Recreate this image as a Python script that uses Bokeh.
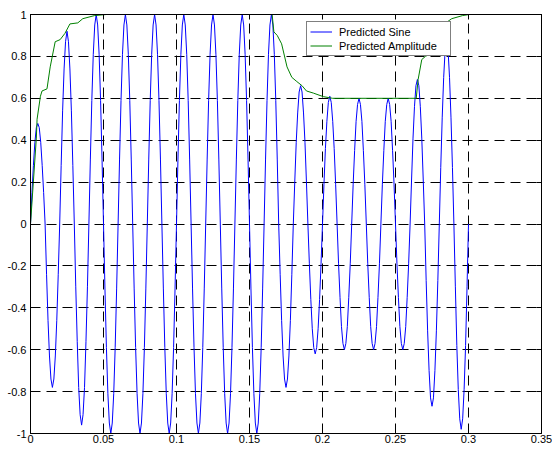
from bokeh.plotting import figure
from bokeh.models import (Range1d, FixedTicker, LinearAxis, Legend, LegendItem,
                          ColumnDataSource, CustomLabelingPolicy)
from bokeh.embed import file_html
from bokeh.resources import INLINE

# ---------------- data ----------------
sample_period = 0.001  # seconds between samples of the predicted sine

# predicted sine, one row per half cycle (10 samples each), plus final sample
predicted_sine = [
    0.00, 0.15, 0.28, 0.39, 0.46, 0.48, 0.46, 0.39, 0.28, 0.15,
    0.00, -0.24, -0.46, -0.63, -0.74, -0.78, -0.74, -0.63, -0.46, -0.24,
    0.00, 0.28, 0.54, 0.74, 0.87, 0.92, 0.87, 0.74, 0.54, 0.28,
    0.00, -0.30, -0.56, -0.78, -0.91, -0.96, -0.91, -0.78, -0.56, -0.30,
    0.00, 0.31, 0.59, 0.81, 0.95, 1.00, 0.95, 0.81, 0.59, 0.31,
    0.00, -0.31, -0.59, -0.81, -0.95, -1.00, -0.95, -0.81, -0.59, -0.31,
    0.00, 0.31, 0.59, 0.81, 0.95, 1.00, 0.95, 0.81, 0.59, 0.31,
    0.00, -0.31, -0.59, -0.81, -0.95, -1.00, -0.95, -0.81, -0.59, -0.31,
    0.00, 0.31, 0.59, 0.81, 0.95, 1.00, 0.95, 0.81, 0.59, 0.31,
    0.00, -0.31, -0.59, -0.81, -0.95, -1.00, -0.95, -0.81, -0.59, -0.31,
    0.00, 0.31, 0.59, 0.81, 0.95, 1.00, 0.95, 0.81, 0.59, 0.31,
    0.00, -0.31, -0.59, -0.81, -0.95, -1.00, -0.95, -0.81, -0.59, -0.31,
    0.00, 0.31, 0.59, 0.81, 0.95, 1.00, 0.95, 0.81, 0.59, 0.31,
    0.00, -0.31, -0.59, -0.81, -0.95, -1.00, -0.95, -0.81, -0.59, -0.31,
    0.00, 0.31, 0.59, 0.81, 0.95, 1.00, 0.95, 0.81, 0.59, 0.31,
    0.00, -0.31, -0.59, -0.81, -0.95, -1.00, -0.95, -0.81, -0.59, -0.31,
    0.00, 0.31, 0.59, 0.81, 0.95, 1.00, 0.95, 0.81, 0.59, 0.31,
    0.00, -0.24, -0.46, -0.63, -0.74, -0.78, -0.74, -0.63, -0.46, -0.24,
    0.00, 0.20, 0.39, 0.53, 0.63, 0.66, 0.63, 0.53, 0.39, 0.20,
    0.00, -0.19, -0.36, -0.50, -0.59, -0.62, -0.59, -0.50, -0.36, -0.19,
    0.00, 0.19, 0.36, 0.49, 0.58, 0.61, 0.58, 0.49, 0.36, 0.19,
    0.00, -0.19, -0.35, -0.49, -0.57, -0.60, -0.57, -0.49, -0.35, -0.19,
    0.00, 0.19, 0.35, 0.49, 0.57, 0.60, 0.57, 0.49, 0.35, 0.19,
    0.00, -0.19, -0.35, -0.49, -0.57, -0.60, -0.57, -0.49, -0.35, -0.19,
    0.00, 0.19, 0.35, 0.49, 0.57, 0.60, 0.57, 0.49, 0.35, 0.19,
    0.00, -0.19, -0.35, -0.49, -0.57, -0.60, -0.57, -0.49, -0.35, -0.19,
    0.00, 0.21, 0.41, 0.56, 0.66, 0.69, 0.66, 0.56, 0.41, 0.21,
    0.00, -0.27, -0.51, -0.70, -0.83, -0.87, -0.83, -0.70, -0.51, -0.27,
    0.00, 0.27, 0.51, 0.70, 0.83, 0.87, 0.83, 0.70, 0.51, 0.27,
    0.00, -0.30, -0.58, -0.79, -0.93, -0.98, -0.93, -0.79, -0.58, -0.30,
    0.00,
]
sine_time = [i * sample_period for i in range(len(predicted_sine))]

# predicted amplitude (envelope)
amp_time = [0.0, 0.004, 0.0045, 0.0068, 0.0079, 0.0113, 0.0135, 0.0169, 0.0203,
            0.0236, 0.027, 0.0324, 0.0358, 0.0439, 0.052, 0.1655, 0.1667, 0.169,
            0.172, 0.1757, 0.179, 0.1824, 0.186, 0.189, 0.1937, 0.2005, 0.207,
            0.2642, 0.2655, 0.268, 0.2705, 0.276, 0.282, 0.2853, 0.2885, 0.296,
            0.3007]
amp_value = [0.0, 0.41, 0.50, 0.61, 0.635, 0.645, 0.75, 0.87, 0.88,
             0.91, 0.955, 0.96, 0.98, 0.995, 1.0, 1.0, 0.917, 0.90,
             0.86, 0.75, 0.70, 0.68, 0.66, 0.635, 0.625, 0.608, 0.60,
             0.60, 0.69, 0.785, 0.80, 0.82, 0.88, 0.964, 0.98, 0.995,
             1.0]

x_ticks = [0.0, 0.05, 0.1, 0.15, 0.2, 0.25, 0.3, 0.35]
x_tick_labels = ["0", "0.05", "0.1", "0.15", "0.2", "0.25", "0.3", "0.35"]
y_ticks = [-1.0, -0.8, -0.6, -0.4, -0.2, 0.0, 0.2, 0.4, 0.6, 0.8, 1.0]
y_tick_labels = ["-1", "-0.8", "-0.6", "-0.4", "-0.2", "0", "0.2", "0.4",
                 "0.6", "0.8", "1"]
series_names = ["Predicted Sine", "Predicted Amplitude"]

# ---------------- figure ----------------
FONT = "Liberation Sans"

p = figure(width=552, height=450, output_backend="svg", toolbar_location=None,
           x_range=Range1d(0, 0.35), y_range=Range1d(-1, 1),
           min_border_left=30, min_border_right=11, min_border_top=14,
           min_border_bottom=17)
p.background_fill_color = "white"
p.border_fill_color = "white"
p.outline_line_color = "black"
p.outline_line_width = 1

xt = FixedTicker(ticks=x_ticks)
yt = FixedTicker(ticks=y_ticks)

no_labels = CustomLabelingPolicy(code="""
    for (const i of indices) indices.unset(i)
    return indices
""")


def style_axis(ax, ticker, overrides, show_labels, standoff):
    ax.ticker = ticker
    ax.axis_line_color = "black"
    ax.major_tick_line_color = "black"
    ax.major_tick_in = 5
    ax.major_tick_out = 0
    ax.minor_tick_line_color = None
    ax.major_label_standoff = standoff
    ax.major_label_text_font = FONT
    ax.major_label_text_color = "black"
    if show_labels:
        ax.major_label_text_font_size = "11px"
        ax.major_label_overrides = overrides
    else:
        ax.major_label_text_font_size = "1px"
        ax.major_label_policy = no_labels


style_axis(p.xaxis[0], xt, dict(zip(x_ticks, x_tick_labels)), True, 1)
style_axis(p.yaxis[0], yt, dict(zip(y_ticks, y_tick_labels)), True, 4)

top_axis = LinearAxis()
style_axis(top_axis, xt, {}, False, 0)
p.add_layout(top_axis, "above")
right_axis = LinearAxis()
style_axis(right_axis, yt, {}, False, 0)
p.add_layout(right_axis, "right")

p.xgrid.ticker = xt
p.ygrid.ticker = yt
for g in (p.xgrid[0], p.ygrid[0]):
    g.grid_line_color = "black"
    g.grid_line_dash = "10 6"
    g.grid_line_width = 1

sine_src = ColumnDataSource(dict(t=sine_time, v=predicted_sine))
amp_src = ColumnDataSource(dict(t=amp_time, v=amp_value))

r_sine = p.line("t", "v", source=sine_src, line_color="#0000ff", line_width=1)
r_amp = p.line("t", "v", source=amp_src, line_color="#008000", line_width=1)

legend = Legend(items=[LegendItem(label=series_names[0], renderers=[r_sine]),
                       LegendItem(label=series_names[1], renderers=[r_amp])],
                location=(276, 377), margin=0, padding=3, spacing=1,
                glyph_width=22, glyph_height=13, label_height=13,
                label_width=108, label_standoff=7,
                label_text_font=FONT, label_text_font_size="11px",
                label_text_color="black",
                border_line_color="black", border_line_width=1.5,
                background_fill_color="white", background_fill_alpha=1.0)
p.add_layout(legend)

open("out.html", "w").write(file_html(p, INLINE))
